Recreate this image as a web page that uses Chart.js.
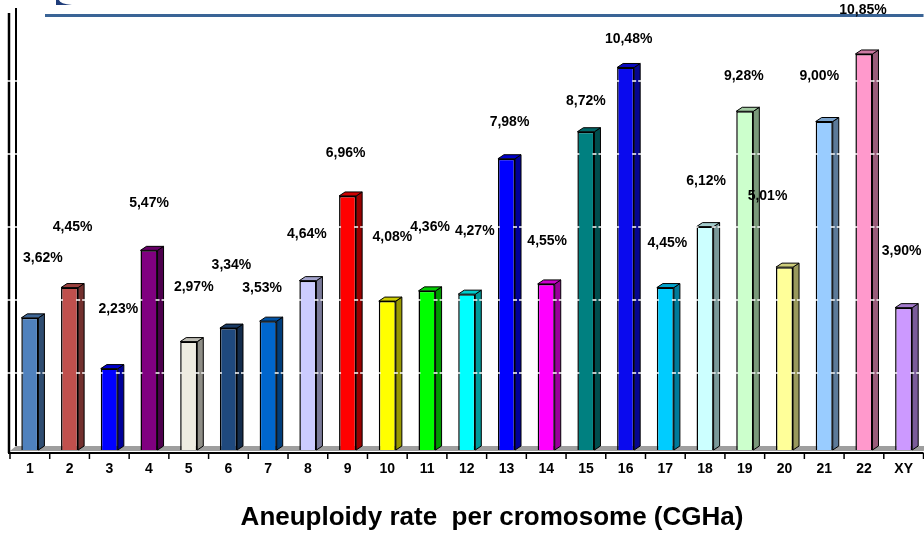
<!DOCTYPE html>
<html>
<head>
<meta charset="utf-8">
<title>Aneuploidy rate per cromosome</title>
<script src="https://cdn.jsdelivr.net/npm/chart.js@4.4.1/dist/chart.umd.min.js"></script>
<style>
  html, body { margin:0; padding:0; background:#fff; }
  #wrap { width:924px; height:535px; }
</style>
</head>
<body>
<div id="wrap"><canvas id="chart" width="924" height="535"></canvas></div>
<script>
// ---- data ----
const chromosomes = ['1','2','3','4','5','6','7','8','9','10','11','12','13','14','15','16','17','18','19','20','21','22','XY'];
const rates = [3.62, 4.45, 2.23, 5.47, 2.97, 3.34, 3.53, 4.64, 6.96, 4.08, 4.36, 4.27, 7.98, 4.55, 8.72, 10.48, 4.45, 6.12, 9.28, 5.01, 9.00, 10.85, 3.90];
const yTicks = [0, 2, 4, 6, 8, 10, 12];
const chartTitle = 'Aneuploidy rate  per cromosome (CGHa)';

// ---- styling ----
const barColors = ['#4f81bd','#c0504d','#0000ff','#800080','#eeece1','#1f497d','#0066cc','#ccccff','#ff0000','#ffff00','#00ff00','#00ffff',
                   '#0000ff','#ff00ff','#008080','#0a0aee','#00ccff','#ccffff','#ccffcc','#ffff99','#99ccff','#ff99cc','#cc99ff'];
// where each value label sits, relative to the top of its bar (px)
const labelOffsets = [[13,-60],[3,-60],[9,-59],[0,-47],[5,-54],[3,-63],[-6,-33],[-1,-46],[-2,-43],[5,-64],[3,-64],[8,-63],
                      [3,-37],[1,-43],[0,-31],[3,-28],[2,-44],[1,-45],[-1,-35],[-17,-71],[-5,-45],[-1,-44],[-2,-57]];
const FONT = "'Liberation Sans', Arial, Helvetica, sans-serif";
const DX = 6, DY = 4;   // fake depth of the 3D look

function shade(hex, f) {
  const n = parseInt(hex.slice(1), 16);
  const r = Math.round(((n >> 16) & 255) * f), g = Math.round(((n >> 8) & 255) * f), b = Math.round((n & 255) * f);
  return `rgb(${r},${g},${b})`;
}
const fmt = v => v.toFixed(2).replace('.', ',') + '%';

const fake3d = {
  id: 'fake3d',
  beforeDatasetsDraw(chart) {
    const { ctx, chartArea: a, scales: { y } } = chart;
    const base = y.getPixelForValue(0);
    ctx.save();
    // header rule and corner of the slide logo
    ctx.strokeStyle = '#3a6496'; ctx.lineWidth = 3;
    ctx.beginPath(); ctx.moveTo(45, 15.5); ctx.lineTo(a.right, 15.5); ctx.stroke();
    ctx.fillStyle = '#1f3d7a';
    ctx.beginPath(); ctx.moveTo(56, 0); ctx.lineTo(56, 5); ctx.lineTo(72, 5); ctx.quadraticCurveTo(60, 4, 59, 0); ctx.closePath(); ctx.fill();
    // floor
    ctx.fillStyle = '#9e9e9e';
    ctx.beginPath();
    ctx.moveTo(a.left, base + 1); ctx.lineTo(a.right, base + 1);
    ctx.lineTo(a.right + DX, base - DY); ctx.lineTo(a.left + DX, base - DY);
    ctx.closePath(); ctx.fill();
    ctx.restore();
  },
  afterDatasetsDraw(chart) {
    const { ctx, chartArea: a, scales: { x, y } } = chart;
    const meta = chart.getDatasetMeta(0);
    const base = y.getPixelForValue(0);
    ctx.save();
    ctx.strokeStyle = '#000'; ctx.lineWidth = 1; ctx.lineJoin = 'round';
    meta.data.forEach((el, i) => {
      const L = el.x - el.width / 2, R = el.x + el.width / 2, T = el.y;
      const c = barColors[i];
      // side face
      ctx.fillStyle = shade(c, 0.6);
      ctx.beginPath(); ctx.moveTo(R, T); ctx.lineTo(R + DX, T - DY); ctx.lineTo(R + DX, base - DY); ctx.lineTo(R, base); ctx.closePath();
      ctx.fill(); ctx.stroke();
      // top face
      ctx.fillStyle = shade(c, 0.8);
      ctx.beginPath(); ctx.moveTo(L, T); ctx.lineTo(L + DX, T - DY); ctx.lineTo(R + DX, T - DY); ctx.lineTo(R, T); ctx.closePath();
      ctx.fill(); ctx.stroke();
      // little white gridline nicks on the bar edges
      ctx.save(); ctx.strokeStyle = '#fff'; ctx.lineWidth = 1.5;
      yTicks.slice(1, -1).forEach(v => {
        const gy = y.getPixelForValue(v) - DY;
        if (gy <= T) return;
        [L, R, R + DX].forEach(ex => { ctx.beginPath(); ctx.moveTo(ex - 2, gy); ctx.lineTo(ex + 2, gy); ctx.stroke(); });
      });
      ctx.restore();
    });

    // axes: wall edge + front y line, x line with category ticks
    ctx.strokeStyle = '#000'; ctx.lineWidth = 2;
    ctx.beginPath(); ctx.moveTo(a.left + DX, a.top - DY); ctx.lineTo(a.left + DX, base - DY); ctx.stroke();
    ctx.lineWidth = 2.5;
    ctx.beginPath(); ctx.moveTo(a.left - 1, a.top + 1); ctx.lineTo(a.left - 1, base + 3); ctx.stroke();
    ctx.lineWidth = 2;
    ctx.beginPath(); ctx.moveTo(a.left - 2, base + 3); ctx.lineTo(a.right, base + 3); ctx.stroke();
    ctx.lineWidth = 1.5;
    const step = x.width / chromosomes.length;
    for (let i = 0; i <= chromosomes.length; i++) {
      const tx = x.left + i * step;
      ctx.beginPath(); ctx.moveTo(tx, base + 3); ctx.lineTo(tx, base + 9); ctx.stroke();
    }
    ctx.strokeStyle = '#fff'; ctx.lineWidth = 1.5;
    yTicks.slice(1, -1).forEach(v => {
      const gy = y.getPixelForValue(v) - DY;
      [a.left - 1, a.left + DX].forEach(ex => { ctx.beginPath(); ctx.moveTo(ex - 2, gy); ctx.lineTo(ex + 2, gy); ctx.stroke(); });
    });

    // value labels
    ctx.fillStyle = '#000'; ctx.font = `bold 14px ${FONT}`;
    ctx.textAlign = 'center'; ctx.textBaseline = 'middle';
    meta.data.forEach((el, i) => {
      const o = labelOffsets[i];
      ctx.fillText(fmt(rates[i]), el.x + o[0], el.y + o[1]);
    });

    // axis title
    ctx.font = `bold 26px ${FONT}`;
    ctx.fillText(chartTitle, 492, 518);
    ctx.restore();
  }
};

new Chart(document.getElementById('chart'), {
  type: 'bar',
  data: {
    labels: chromosomes,
    datasets: [{
      data: rates,
      backgroundColor: barColors,
      borderColor: '#000',
      borderWidth: 1.5,
      barPercentage: 0.43,
      categoryPercentage: 1
    }]
  },
  options: {
    responsive: false,
    animation: false,
    devicePixelRatio: 1,
    layout: { padding: { left: 10, right: 0, top: 12, bottom: 0 } },
    plugins: { legend: { display: false }, tooltip: { enabled: false } },
    scales: {
      x: {
        grid: { display: false, drawTicks: false },
        border: { display: false },
        ticks: { color: '#000', autoSkip: false, maxRotation: 0, padding: 11, font: { family: FONT, size: 14, weight: 'bold' } },
        afterFit: s => { s.height = 85; }
      },
      y: { display: false, min: 0, max: yTicks[yTicks.length - 1], ticks: { stepSize: 2 } }
    }
  },
  plugins: [fake3d]
});
</script>
</body>
</html>
